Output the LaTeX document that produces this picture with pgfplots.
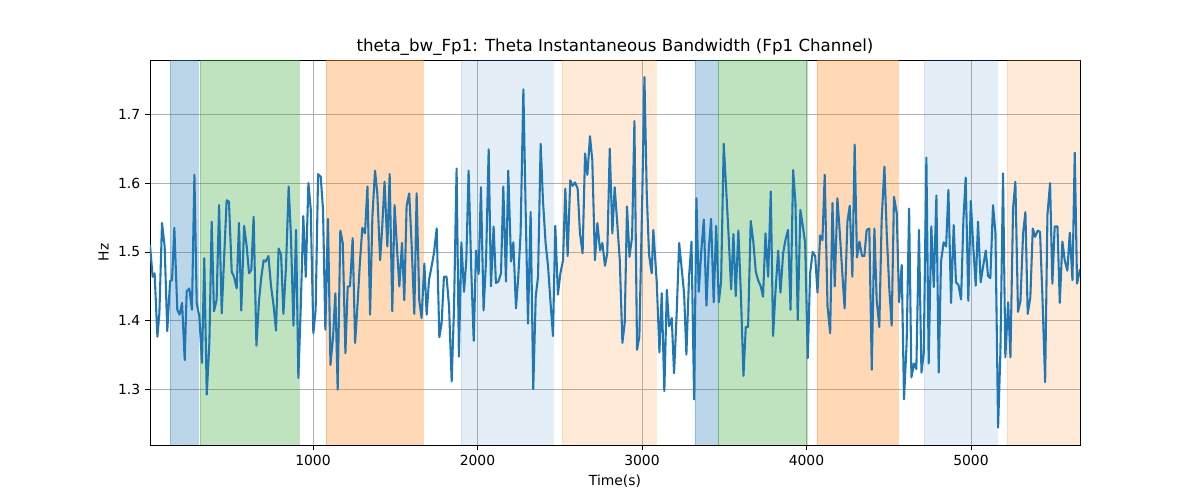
\documentclass[border=0pt]{standalone}
\usepackage{pgfplots}
\pgfplotsset{compat=1.18}
\usepackage{pgfplotstable}
\usepackage{fontspec}
\setmainfont{DejaVu Sans}
\definecolor{tabblue}{HTML}{1F77B4}
\definecolor{tabgreen}{HTML}{2CA02C}
\definecolor{taborange}{HTML}{FF7F0E}
\definecolor{gridgray}{HTML}{B0B0B0}
\pgfplotstableread{
x y
9 1.510
25 1.464
37 1.469
54 1.377
66 1.411
82 1.542
98 1.508
114 1.385
131 1.458
143 1.459
157 1.535
175 1.416
189 1.409
204 1.426
220 1.343
232 1.443
248 1.447
264 1.416
279 1.612
293 1.426
309 1.406
325 1.339
339 1.491
354 1.293
370 1.368
384 1.544
398 1.414
414 1.430
429 1.568
445 1.411
459 1.488
475 1.575
489 1.573
506 1.471
520 1.464
536 1.447
550 1.542
564 1.415
581 1.538
597 1.508
611 1.469
625 1.474
639 1.551
656 1.364
672 1.430
686 1.464
700 1.488
712 1.486
729 1.494
745 1.450
761 1.421
775 1.386
791 1.505
806 1.496
820 1.410
836 1.479
852 1.595
866 1.522
881 1.393
897 1.532
911 1.317
925 1.416
941 1.552
956 1.464
972 1.600
986 1.563
1002 1.382
1016 1.416
1031 1.613
1047 1.609
1061 1.561
1075 1.387
1091 1.548
1106 1.336
1122 1.377
1136 1.440
1150 1.300
1166 1.531
1181 1.513
1197 1.353
1211 1.450
1225 1.450
1241 1.520
1256 1.368
1270 1.421
1286 1.488
1300 1.535
1316 1.527
1331 1.595
1347 1.409
1361 1.551
1377 1.618
1391 1.585
1408 1.488
1421 1.537
1435 1.602
1452 1.508
1466 1.613
1482 1.414
1496 1.568
1510 1.508
1525 1.450
1541 1.513
1555 1.430
1569 1.567
1585 1.585
1600 1.508
1616 1.410
1630 1.585
1646 1.430
1660 1.404
1677 1.483
1691 1.409
1705 1.459
1721 1.479
1735 1.498
1752 1.534
1768 1.376
1782 1.397
1796 1.464
1812 1.464
1827 1.421
1843 1.312
1857 1.416
1873 1.621
1887 1.348
1902 1.514
1918 1.442
1932 1.488
1946 1.618
1962 1.474
1977 1.371
1991 1.502
2007 1.468
2021 1.594
2037 1.415
2052 1.488
2068 1.649
2082 1.450
2098 1.537
2112 1.455
2127 1.457
2143 1.469
2157 1.595
2173 1.457
2187 1.618
2204 1.486
2218 1.514
2234 1.418
2248 1.464
2262 1.527
2279 1.736
2293 1.558
2307 1.396
2323 1.558
2339 1.301
2354 1.435
2368 1.464
2384 1.657
2398 1.575
2414 1.513
2429 1.479
2443 1.430
2459 1.378
2473 1.538
2489 1.438
2504 1.469
2520 1.488
2534 1.592
2548 1.494
2564 1.604
2579 1.596
2593 1.601
2609 1.592
2623 1.527
2639 1.498
2654 1.643
2668 1.612
2684 1.668
2698 1.633
2714 1.488
2729 1.542
2745 1.502
2759 1.513
2775 1.480
2789 1.498
2804 1.650
2820 1.527
2834 1.594
2851 1.537
2865 1.488
2881 1.368
2895 1.397
2909 1.566
2924 1.493
2940 1.522
2954 1.690
2970 1.358
2984 1.377
3001 1.571
3015 1.754
3029 1.585
3043 1.496
3059 1.469
3069 1.532
3090 1.455
3106 1.354
3120 1.440
3136 1.298
3151 1.445
3165 1.392
3181 1.404
3195 1.324
3211 1.411
3226 1.513
3240 1.479
3256 1.440
3270 1.351
3286 1.464
3301 1.515
3317 1.286
3331 1.578
3345 1.442
3361 1.503
3376 1.547
3392 1.422
3406 1.503
3420 1.548
3436 1.427
3451 1.538
3467 1.427
3481 1.457
3497 1.657
3511 1.595
3526 1.527
3542 1.446
3556 1.526
3570 1.436
3586 1.531
3601 1.440
3617 1.320
3631 1.391
3645 1.391
3661 1.545
3676 1.517
3692 1.471
3706 1.459
3722 1.450
3736 1.435
3751 1.527
3767 1.464
3783 1.588
3797 1.378
3811 1.440
3828 1.502
3842 1.441
3858 1.498
3872 1.517
3888 1.532
3903 1.416
3919 1.619
3933 1.571
3947 1.401
3963 1.561
3978 1.537
3992 1.513
4008 1.346
4022 1.469
4038 1.500
4053 1.494
4067 1.441
4083 1.524
4097 1.517
4111 1.612
4128 1.421
4144 1.382
4158 1.571
4172 1.450
4188 1.578
4203 1.527
4218 1.469
4232 1.418
4249 1.544
4263 1.567
4279 1.464
4293 1.656
4307 1.492
4322 1.515
4338 1.494
4352 1.494
4366 1.532
4382 1.534
4397 1.329
4413 1.534
4427 1.430
4443 1.391
4457 1.546
4474 1.624
4488 1.527
4504 1.445
4518 1.393
4532 1.580
4549 1.556
4563 1.427
4579 1.481
4593 1.286
4609 1.368
4624 1.563
4638 1.318
4654 1.338
4668 1.330
4684 1.532
4699 1.325
4713 1.353
4729 1.637
4743 1.338
4759 1.537
4774 1.449
4790 1.582
4804 1.325
4818 1.486
4834 1.514
4849 1.508
4863 1.590
4879 1.426
4895 1.539
4909 1.456
4924 1.452
4940 1.431
4954 1.546
4968 1.608
4984 1.429
4999 1.574
5015 1.504
5029 1.451
5043 1.544
5059 1.456
5074 1.479
5090 1.502
5104 1.465
5118 1.462
5134 1.568
5149 1.527
5165 1.245
5179 1.354
5195 1.614
5209 1.347
5226 1.427
5240 1.347
5256 1.563
5270 1.602
5286 1.413
5301 1.429
5317 1.527
5331 1.558
5345 1.410
5361 1.434
5376 1.534
5390 1.522
5406 1.531
5420 1.529
5434 1.438
5451 1.311
5465 1.554
5481 1.600
5495 1.454
5509 1.537
5526 1.537
5540 1.426
5556 1.515
5570 1.488
5586 1.473
5601 1.528
5617 1.459
5631 1.644
5645 1.454
5663 1.475
}\bwdata
\newcommand{\vspanband}[4]{%
  \addplot[fill=#1, fill opacity=#4, draw=#1, draw opacity=#4, line width=0.5pt]
    coordinates {(#2,1.2197) (#2,1.7787) (#3,1.7787) (#3,1.2197)} -- cycle;}
\begin{document}
\begin{tikzpicture}
\begin{axis}[
  scale only axis,
  width=669.6pt, height=277.2pt,
  xmin=9, xmax=5663, ymin=1.2197, ymax=1.7787,
  xtick={1000,2000,3000,4000,5000},
  ytick={1.3,1.4,1.5,1.6,1.7},
  yticklabel style={/pgf/number format/.cd, fixed, precision=1, fixed zerofill},
  /pgf/number format/assume math mode=true,
  scaled x ticks=false,
  xticklabel style={/pgf/number format/1000 sep={}},
  tick align=outside,
  tick pos=left,
  major tick length=3.5pt,
  tick style={black, line width=0.58pt},
  axis line style={black, line width=0.58pt},
  grid=major,
  major grid style={gridgray, line width=0.58pt},
  ticklabel style={font=\fontsize{10}{12}\selectfont},
  title={theta\_bw\_Fp1: Theta Instantaneous Bandwidth (Fp1 Channel)},
  title style={font=\fontsize{12}{14}\selectfont, yshift=-6.5pt},
  xlabel={Time(s)},
  ylabel={Hz},
  label style={font=\fontsize{10}{12}\selectfont},
  clip=true,
]
\vspanband{tabblue}{131}{301}{0.3}
\vspanband{tabgreen}{313}{915}{0.3}
\vspanband{taborange}{1079}{1669}{0.3}
\vspanband{tabblue}{1900}{2459}{0.12}
\vspanband{taborange}{2514}{3085}{0.16}
\vspanband{tabblue}{3322}{3462}{0.3}
\vspanband{tabgreen}{3462}{4003}{0.3}
\vspanband{taborange}{4064}{4556}{0.3}
\vspanband{tabblue}{4714}{5158}{0.12}
\vspanband{taborange}{5219}{5663}{0.16}
\addplot[tabblue, line width=1.5pt, line join=round] table[x=x, y=y] {\bwdata};
\end{axis}
\useasboundingbox ([xshift=-108pt, yshift=-39.6pt]current axis.south west) rectangle ([xshift=86.4pt, yshift=43.2pt]current axis.north east);
\end{tikzpicture}
\end{document}
